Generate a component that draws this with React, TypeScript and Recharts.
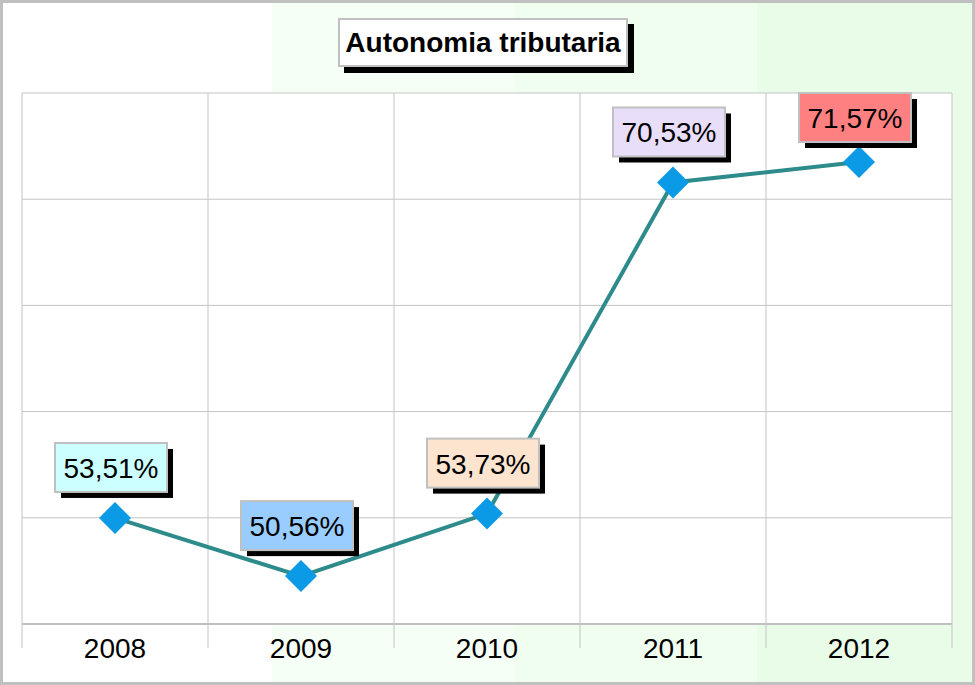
import React from 'react';
import { LineChart, Line, XAxis, YAxis, CartesianGrid, LabelList } from 'recharts';

const years = ['2008', '2009', '2010', '2011', '2012'];
const values = [53.51, 50.56, 53.73, 70.53, 71.57];
const labelTexts = ['53,51%', '50,56%', '53,73%', '70,53%', '71,57%'];
const labelColors = ['#ccffff', '#99ccff', '#fde4cf', '#e8defa', '#ff8080'];
const yDomain: [number, number] = [48.13, 75.07];
const chartTitle = 'Autonomia tributaria';

const data = years.map((y, i) => ({ year: y, value: values[i] }));

const W = 975;
const H = 685;
const M = { top: 93, right: 23, left: 22, bottom: 0 };
const AXIS_H = 61;
const FONT = '"Liberation Sans", Arial, sans-serif';
const BAND = (W - M.left - M.right) / years.length;

const Diamond = (props: any) => {
  const { cx, cy } = props;
  if (cx == null || cy == null) return null;
  const r = 16;
  return (
    <polygon
      points={`${cx},${cy - r} ${cx + r},${cy} ${cx},${cy + r} ${cx - r},${cy}`}
      fill="#0a9ae6"
    />
  );
};

const LabelBox = (props: any) => {
  const { x, y, index } = props;
  if (x == null || y == null) return null;
  const w = 112;
  const h = 49;
  const bx = x - 60;
  const by = Math.max(M.top, y - 26 - h);
  return (
    <g>
      <rect x={bx + 6} y={by + 6} width={w} height={h} fill="#000" />
      <rect x={bx} y={by} width={w} height={h} fill={labelColors[index]} stroke="#c0c0c0" strokeWidth={2} />
      <text
        x={bx + w / 2}
        y={by + h / 2 + 1}
        textAnchor="middle"
        dominantBaseline="central"
        fontFamily={FONT}
        fontSize={28}
        fill="#000"
      >
        {labelTexts[index]}
      </text>
    </g>
  );
};

const XTick = (props: any) => {
  const { x, y, payload, index } = props;
  const last = index === years.length - 1;
  return (
    <g>
      <line x1={x - BAND / 2} x2={x - BAND / 2} y1={y} y2={y + 24} stroke="#c4c4c4" strokeWidth={1} />
      {last && <line x1={x + BAND / 2} x2={x + BAND / 2} y1={y} y2={y + 24} stroke="#c4c4c4" strokeWidth={1} />}
      <text x={x} y={y + 34} textAnchor="middle" fontFamily={FONT} fontSize={28} fill="#000">
        {payload.value}
      </text>
    </g>
  );
};

export default function App() {
  return (
    <div
      style={{
        position: 'absolute',
        left: 0,
        top: 0,
        width: W,
        height: H,
        background:
          'linear-gradient(to right, #ffffff 0px, #ffffff 272px, #f6fff6 272px, #f6fff6 515px, #effeef 515px, #effeef 757px, #e8fce8 757px, #e8fce8 975px)',
        boxShadow: 'inset 0 0 0 3px #c0c0c0',
      }}
    >
      <LineChart width={W} height={H} data={data} margin={M}>
        <CartesianGrid
          fill="#ffffff"
          stroke="#c4c4c4"
          strokeWidth={1}
          verticalCoordinatesGenerator={({ offset }: any) =>
            years.map((_, i) => offset.left + (i * offset.width) / years.length).concat([offset.left + offset.width])
          }
          horizontalCoordinatesGenerator={({ offset }: any) =>
            [0, 1, 2, 3, 4, 5].map((k) => offset.top + (k * offset.height) / 5)
          }
        />
        <XAxis
          dataKey="year"
          height={AXIS_H}
          padding={{ left: BAND / 2, right: BAND / 2 }}
          axisLine={{ stroke: '#c0c0c0', strokeWidth: 2 }}
          tickLine={false}
          tickSize={0}
          tickMargin={0}
          tick={<XTick />}
          interval={0}
        />
        <YAxis hide domain={yDomain} type="number" allowDataOverflow />
        <Line
          type="linear"
          dataKey="value"
          stroke="#2e8b8b"
          strokeWidth={4}
          dot={<Diamond />}
          activeDot={false}
          isAnimationActive={false}
        >
          <LabelList dataKey="value" content={<LabelBox />} />
        </Line>
      </LineChart>
      <div
        style={{
          position: 'absolute',
          left: 338,
          top: 18,
          width: 290,
          height: 49,
          boxSizing: 'border-box',
          border: '2px solid #c0c0c0',
          background: '#ffffff',
          boxShadow: '6px 6px 0 #000',
          fontFamily: FONT,
          fontWeight: 'bold',
          fontSize: 28,
          lineHeight: '45px',
          textAlign: 'center',
          color: '#000',
          whiteSpace: 'nowrap',
        }}
      >
        {chartTitle}
      </div>
    </div>
  );
}
